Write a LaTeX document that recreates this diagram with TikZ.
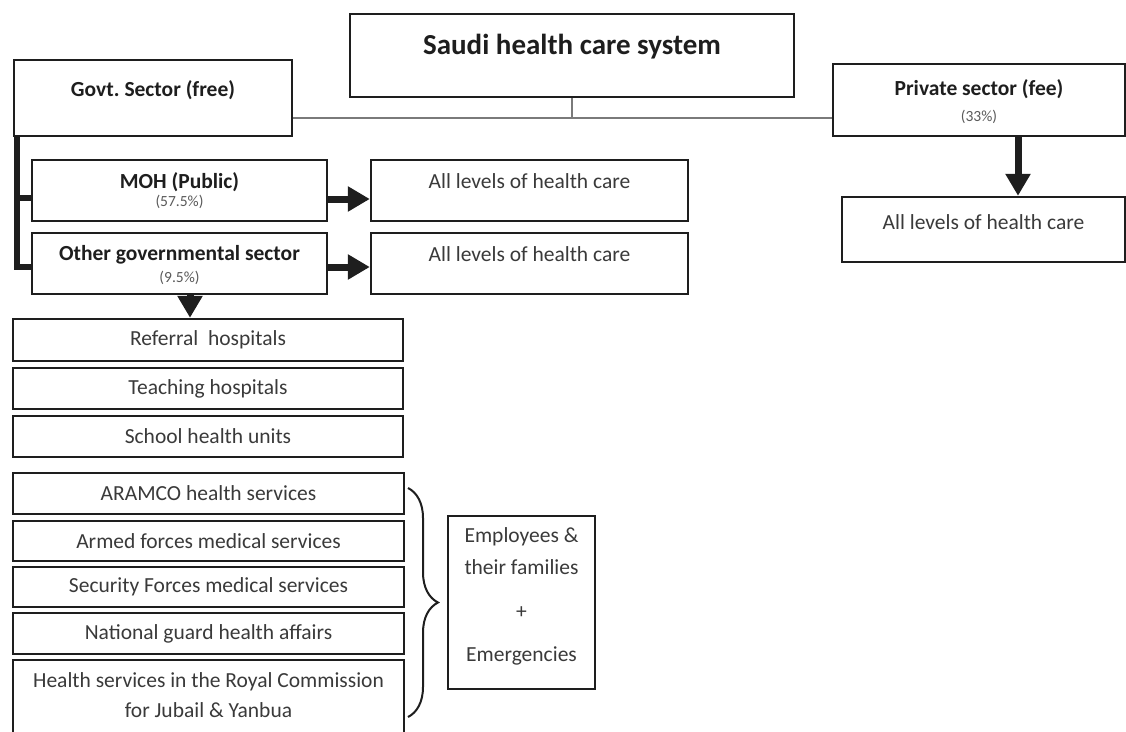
\documentclass[tikz,border=0pt]{standalone}
\usepackage{fontspec}
\setmainfont{Carlito}
\usetikzlibrary{arrows.meta,fit,decorations.pathreplacing,calc}
\definecolor{ink}{HTML}{1E1E1E}
\definecolor{txt}{HTML}{3A3A3A}
\definecolor{pct}{HTML}{5A5A5A}
\definecolor{link}{HTML}{7A7A7A}
\newcommand\mkbox[3]{\node[box, fit={#2 #3}] (#1) {};}
\frenchspacing
\begin{document}
\begin{tikzpicture}[x=1pt,y=-1pt,
  box/.style={draw=ink, line width=2.4pt, inner sep=0pt, fill=white},
  title/.style={font=\bfseries\fontsize{29}{34}\selectfont, text=ink, inner sep=0pt},
  head/.style={font=\bfseries\fontsize{21.5}{25}\selectfont, text=ink, inner sep=0pt},
  body/.style={font=\fontsize{21.5}{30}\selectfont, text=txt, inner sep=0pt, align=center},
  share/.style={font=\fontsize{15.5}{17}\selectfont, text=pct, inner sep=0pt},
  trunk/.style={draw=ink, line width=6pt, line join=miter},
  tie/.style={draw=link, line width=2.6pt},
  bigarrow/.style={draw=ink, line width=7pt, -{Triangle[length=22pt,width=24pt]}},
  curly/.style={draw=ink, line width=2pt, decorate,
    decoration={brace, amplitude=30pt, aspect=0.5}}]
\useasboundingbox (0,0) rectangle (1126,731);
\clip (0,0) rectangle (1126,731);

% top level
\mkbox{saudi}{(350,14)}{(794,97)}
\node[title] (saudiT) at (572,47) {Saudi health care system};

\mkbox{govt}{(14,60)}{(292,136)}
\node[head] (govtT) at (153,90) {Govt. Sector (free)};

\mkbox{priv}{(833,64)}{(1125,136)}
\node[head] (privT) at (979,89) {Private sector (fee)};
\node[share] (privP) at (979,117) {(33\%)};

% link between the three top boxes
\coordinate (joint) at (saudi.south |- 0,118);
\draw[tie] (govt.east |- joint) -- (priv.west |- joint);
\draw[tie] (saudi.south) -- (joint);

% government branches
\mkbox{moh}{(32,160)}{(327,221)}
\node[head] (mohT) at (179.5,182) {MOH (Public)};
\node[share] (mohP) at (179.5,202) {(57.5\%)};

\mkbox{other}{(32,233)}{(327,294)}
\node[head] (otherT) at (179.5,255) {Other governmental sector};
\node[share] (otherP) at (179.5,278) {(9.5\%)};

\draw[trunk] (govt.south west -| 16.5,0) -- (16.5,267) -- (other.west |- 0,267);
\draw[trunk] (16.5,198) -- (moh.west |- 0,198);

\mkbox{levA}{(371,160)}{(688,221)}
\node[body] (levAT) at (529.5,181) {All levels of health care};
\mkbox{levB}{(371,233)}{(688,294)}
\node[body] (levBT) at (529.5,254) {All levels of health care};
\mkbox{levC}{(842,197)}{(1125,262)}
\node[body] (levCT) at (983.5,222) {All levels of health care};

\draw[bigarrow] (moh.east |- 0,199) -- (levA.west |- 0,199);
\draw[bigarrow] (other.east |- 0,267) -- (levB.west |- 0,267);
\draw[bigarrow] (priv.south -| 1018,0) -- (levC.north -| 1018,0);

% facilities of the other governmental sector
\mkbox{referral}{(13,319)}{(403,361)}
\node[body] (referralT) at (208,340) {Referral\ \ hospitals};
\mkbox{teaching}{(13,368)}{(403,409)}
\node[body] (teachingT) at (208,388.5) {Teaching hospitals};
\mkbox{school}{(13,416)}{(403,457)}
\node[body] (schoolT) at (208,436.5) {School health units};

\draw[bigarrow] (other.south -| 190,0) -- (referral.north -| 190,0);

\mkbox{aramco}{(13,473)}{(404,514)}
\node[body] (aramcoT) at (208.5,493.5) {ARAMCO health services};
\mkbox{armed}{(13,521)}{(404,561)}
\node[body] (armedT) at (208.5,541) {Armed forces medical services};
\mkbox{security}{(13,567)}{(404,607)}
\node[body] (securityT) at (208.5,587) {Security Forces medical services};
\mkbox{guard}{(13,613)}{(404,654)}
\node[body] (guardT) at (208.5,633.5) {National guard health affairs};
\mkbox{royal}{(13,660)}{(404,745)}
\node[body] (royalT) at (208.5,695.5) {Health services in the Royal Commission\\for Jubail \& Yanbua};

% who these services cover
\coordinate (braceTop) at (408,488);
\coordinate (braceBot) at (408,717);
\draw[curly] (braceTop) -- (braceBot);

\mkbox{cover}{(448,516)}{(595,689)}
\node[body] (coverA) at (521.5,537) {Employees \&};
\node[body] (coverB) at (521.5,567) {their families};
\node[body] (coverC) at (521.5,613) {+};
\node[body] (coverD) at (521.5,656) {Emergencies};
\end{tikzpicture}
\end{document}
